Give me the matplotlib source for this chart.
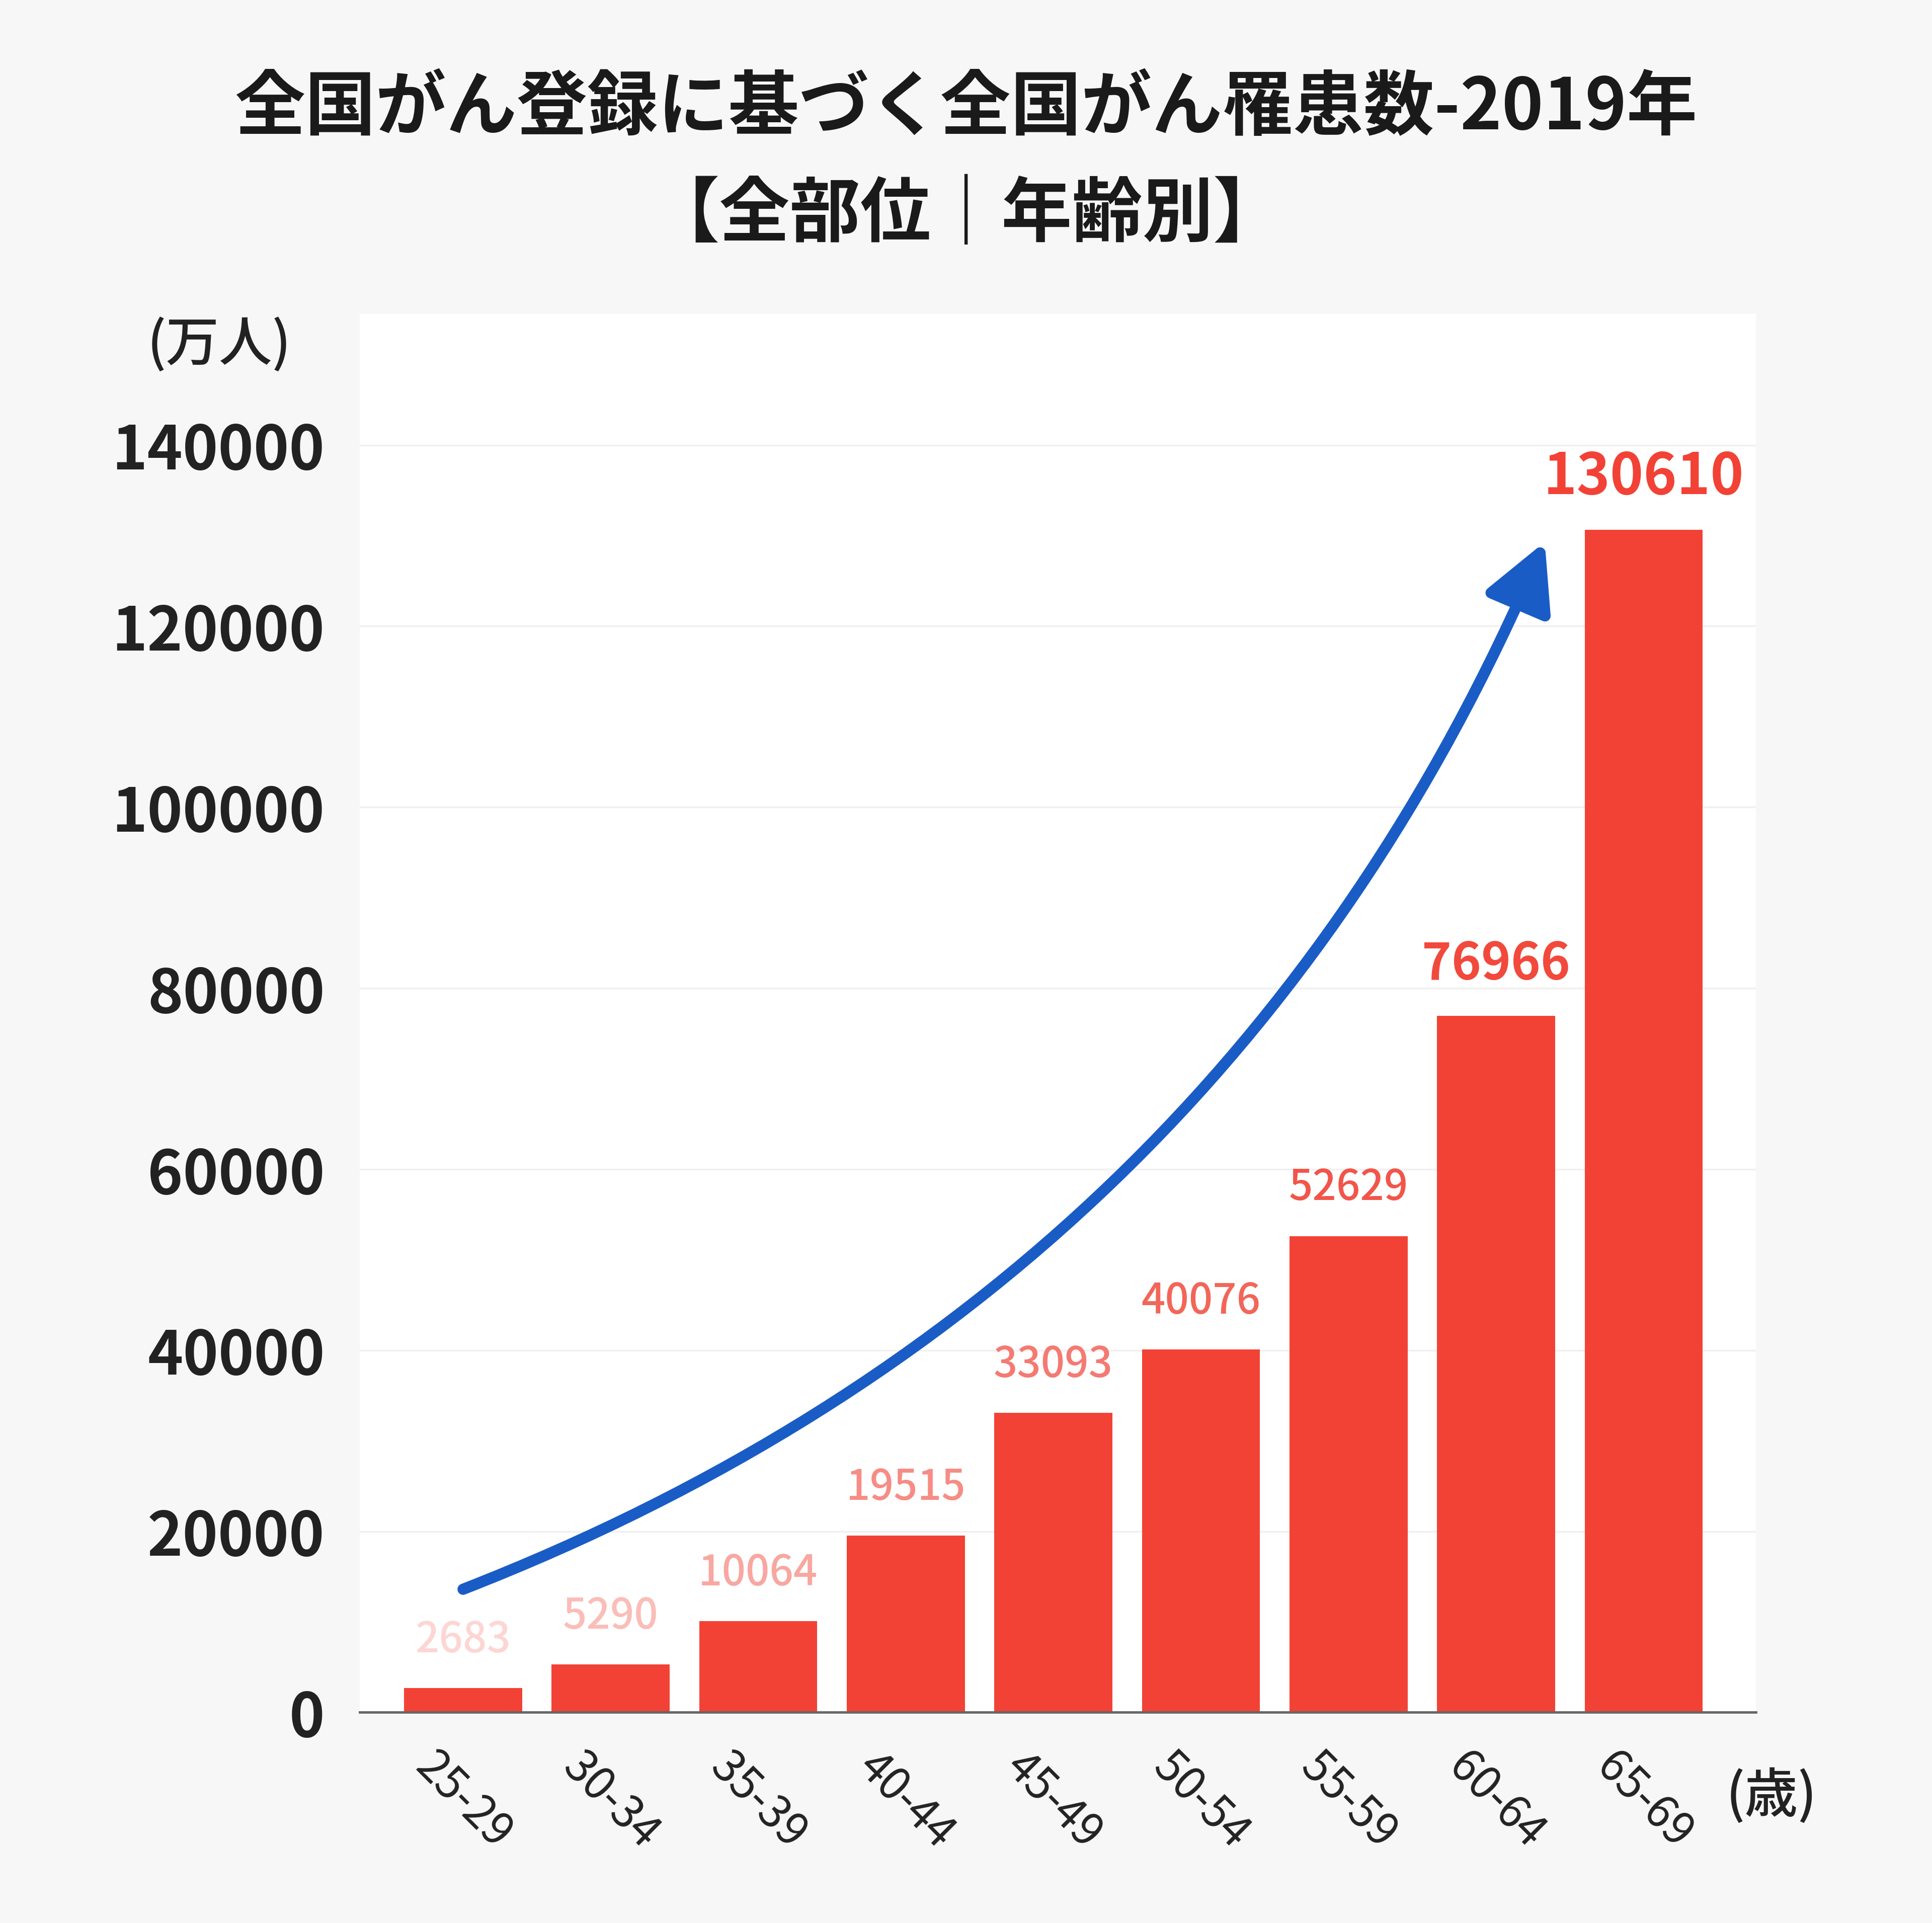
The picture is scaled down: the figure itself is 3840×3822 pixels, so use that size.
import matplotlib
matplotlib.use("Agg")
import matplotlib.pyplot as plt

plt.rcParams["font.family"] = ["Noto Sans CJK JP", "DejaVu Sans"]

age_groups = ["25-29", "30-34", "35-39", "40-44", "45-49", "50-54", "55-59", "60-64", "65-69"]
cases = [2683, 5290, 10064, 19515, 33093, 40076, 52629, 76966, 130610]
label_colors = ["#FDD6D3", "#FBBDB8", "#F8A7A1", "#F78C85", "#F47A72",
                "#F26659", "#F2554A", "#F2493D", "#F24236"]
label_sizes = [60, 60, 60, 60, 60, 60, 60, 72, 81]
label_weights = ["medium"] * 7 + ["bold", "bold"]
y_ticks = [0, 20000, 40000, 60000, 80000, 100000, 120000, 140000]

fig = plt.figure(figsize=(38.4, 38.23), dpi=100)
fig.patch.set_facecolor("#F7F7F7")
ax = fig.add_axes([0.1862, 0.1095, 0.7226, 0.7271])
ax.set_facecolor("white")

x = list(range(len(age_groups)))
ax.bar(x, cases, width=0.8, color="#F24236", zorder=2)

for xi, val, col, fs, fw in zip(x, cases, label_colors, label_sizes, label_weights):
    ax.annotate(f"{val}", (xi, val), xytext=(0, 52), textcoords="offset points",
                ha="center", va="baseline", fontsize=fs, color=col, fontweight=fw)

ax.set_xlim(-0.7, 8.76)
ax.set_ylim(0, 154500)
ax.set_yticks(y_ticks)
ax.set_yticklabels([str(t) for t in y_ticks], fontsize=86, fontweight="bold", color="#222222")
ax.set_xticks(x)
ax.set_xticklabels(age_groups, fontsize=64, color="#222222", rotation=-45,
                   ha="center", va="top")
ax.tick_params(axis="y", length=0, pad=50)
ax.tick_params(axis="x", length=0, pad=44)
ax.yaxis.grid(True, color="#F0F0F0", linewidth=2.5, zorder=0)
ax.set_axisbelow(True)

for side in ["top", "right", "left"]:
    ax.spines[side].set_visible(False)
ax.spines["bottom"].set_color("#666666")
ax.spines["bottom"].set_linewidth(3.5)
ax.spines["bottom"].set_zorder(3)

# 増加を示す青い矢印
ax.annotate("", xy=(7.33, 129300), xytext=(0, 13600),
            arrowprops=dict(arrowstyle="-|>,head_length=0.8,head_width=0.42",
                            mutation_scale=100, color="#1A5CC6", lw=16,
                            connectionstyle="arc3,rad=0.21",
                            shrinkA=0, shrinkB=0, capstyle="round"),
            zorder=4)

fig.text(0.5, 0.9436, "全国がん登録に基づく全国がん罹患数-2019年", ha="center", va="center",
         fontsize=101, fontweight="bold", color="#1A1A1A")
fig.text(0.5, 0.888, "【全部位｜年齢別】", ha="center", va="center",
         fontsize=101, fontweight="bold", color="#1A1A1A")
fig.text(0.1135, 0.8205, "(万人)", ha="center", va="center", fontsize=76,
         fontweight="medium", color="#222222")
fig.text(0.917, 0.066, "(歳)", ha="center", va="center", fontsize=76,
         fontweight="medium", color="#222222")

fig.savefig("out.png", dpi=100, facecolor=fig.get_facecolor())
